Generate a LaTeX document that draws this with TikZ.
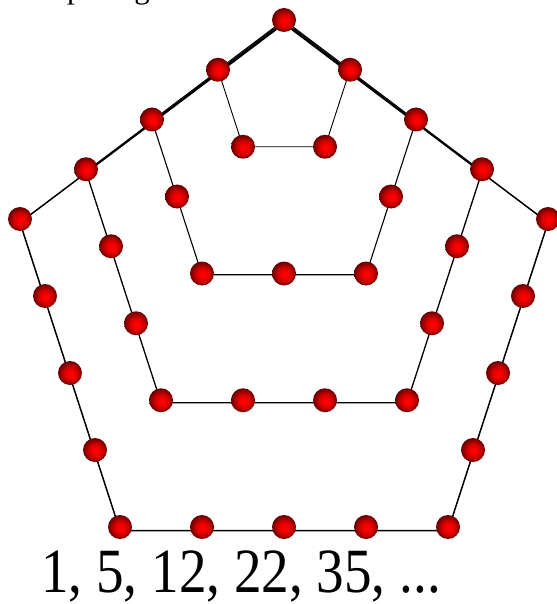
\documentclass[tikz,border=0pt]{standalone}
\usepackage{fontspec}
\setmainfont{Liberation Serif}
\usetikzlibrary{backgrounds}
\pgfdeclareradialshading{redball}{\pgfpoint{2bp}{-3bp}}{color(0bp)=(red); color(5bp)=(red); color(15bp)=(red!80!black); color(22bp)=(red!52!black); color(26bp)=(red!38!black); color(30bp)=(red!38!black)}
\tikzset{
  dot/.style={circle, minimum size=24pt, inner sep=0pt, shading=redball},
  pent/.style={black, line join=round}
}
\begin{document}
\begin{tikzpicture}[x=1pt,y=-1pt]
\useasboundingbox (0,0) rectangle (556,604);
% top (clipped) caption
\node[anchor=base west, inner sep=0pt, font=\fontsize{31}{31}\selectfont] (cap) at (67,-1.5) {pentagonal numbers};
% dots
\node[dot] (T) at (284,20) {};
\foreach \k in {1,...,4}{
  \node[dot] (L\k) at ({284-66*\k},{20+49.75*\k}) {};
  \node[dot] (R\k) at ({284+66*\k},{20+49.75*\k}) {};
  \node[dot] (BL\k) at ({284-41*\k},{20+126.75*\k}) {};
  \node[dot] (BR\k) at ({284+41*\k},{20+126.75*\k}) {};
}
\foreach \k in {2,...,4}{
  \pgfmathtruncatemacro{\km}{\k-1}
  \foreach \j in {1,...,\km}{
    \node[dot] (SL\k-\j) at ({284-66*\k+25*\j},{20+49.75*\k+77*\j}) {};
    \node[dot] (SB\k-\j) at ({284-41*\k+82*\j},{20+126.75*\k}) {};
    \node[dot] (SR\k-\j) at ({284+66*\k-25*\j},{20+49.75*\k+77*\j}) {};
  }
}
% pentagon outlines
\begin{scope}[on background layer]
\foreach \k/\w/\s in {1/0.9/0, 2/1.1/1.2, 3/1.3/2.4, 4/1.5/3.6}{
  \draw[pent, line width=\w pt, transform canvas={yshift=-\s pt}]
    (T.center) -- (L\k.center) -- (BL\k.center) -- (BR\k.center) -- (R\k.center) -- cycle;
}
\end{scope}
% sequence
\node[anchor=base west, inner sep=0pt, font=\fontsize{63}{63}\selectfont] (seq) at (41,592) {\scalebox{0.875}[1]{1, 5, 12, 22, 35, ...}};
\end{tikzpicture}
\end{document}
